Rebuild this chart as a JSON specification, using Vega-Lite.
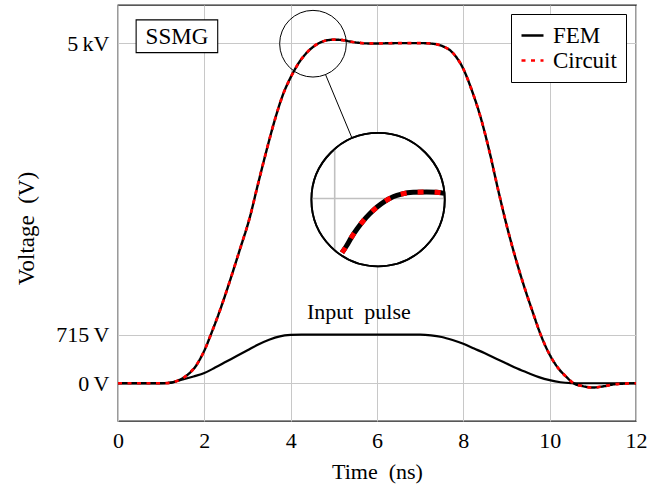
{
  "$schema": "https://vega.github.io/schema/vega-lite/v6.json",
  "width": 518,
  "height": 416,
  "autosize": {"type": "none"},
  "padding": {"left": 118, "top": 5, "right": 34, "bottom": 70},
  "background": "white",
  "config": {
    "font": "Liberation Serif",
    "view": {"stroke": "#222222", "strokeWidth": 1.3},
    "axis": {
      "gridColor": "#c8c8c8",
      "gridWidth": 1,
      "domain": false,
      "ticks": false,
      "labelFont": "Liberation Serif",
      "labelFontSize": 22,
      "labelColor": "black",
      "titleFont": "Liberation Serif",
      "titleFontSize": 22,
      "titleFontWeight": "normal",
      "titleColor": "black"
    }
  },
  "datasets": {
    "main": [
      {"t": 0, "FEM": 0, "Circuit": 0},
      {"t": 0.5, "FEM": 0, "Circuit": 0},
      {"t": 1.0, "FEM": 0, "Circuit": 0},
      {"t": 1.2, "FEM": 5, "Circuit": 5},
      {"t": 1.35, "FEM": 30, "Circuit": 30},
      {"t": 1.5, "FEM": 74, "Circuit": 74},
      {"t": 1.65, "FEM": 145, "Circuit": 145},
      {"t": 1.8, "FEM": 250, "Circuit": 250},
      {"t": 1.9, "FEM": 355, "Circuit": 355},
      {"t": 2.0, "FEM": 480, "Circuit": 480},
      {"t": 2.16, "FEM": 730, "Circuit": 730},
      {"t": 2.35, "FEM": 1050, "Circuit": 1050},
      {"t": 2.59, "FEM": 1500, "Circuit": 1500},
      {"t": 2.82, "FEM": 1960, "Circuit": 1960},
      {"t": 3.05, "FEM": 2430, "Circuit": 2430},
      {"t": 3.24, "FEM": 2920, "Circuit": 2920},
      {"t": 3.44, "FEM": 3420, "Circuit": 3420},
      {"t": 3.63, "FEM": 3865, "Circuit": 3865},
      {"t": 3.82, "FEM": 4240, "Circuit": 4240},
      {"t": 4.01, "FEM": 4509, "Circuit": 4509},
      {"t": 4.21, "FEM": 4730, "Circuit": 4730},
      {"t": 4.44, "FEM": 4901, "Circuit": 4901},
      {"t": 4.63, "FEM": 4990, "Circuit": 4990},
      {"t": 4.8, "FEM": 5035, "Circuit": 5035},
      {"t": 5.0, "FEM": 5050, "Circuit": 5050},
      {"t": 5.2, "FEM": 5045, "Circuit": 5045},
      {"t": 5.4, "FEM": 5020, "Circuit": 5020},
      {"t": 5.6, "FEM": 5003, "Circuit": 5003},
      {"t": 5.8, "FEM": 4995, "Circuit": 4995},
      {"t": 6.0, "FEM": 4995, "Circuit": 4995},
      {"t": 6.3, "FEM": 4998, "Circuit": 4998},
      {"t": 6.6, "FEM": 5000, "Circuit": 5000},
      {"t": 7.0, "FEM": 5000, "Circuit": 5000},
      {"t": 7.25, "FEM": 4993, "Circuit": 4993},
      {"t": 7.5, "FEM": 4960, "Circuit": 4960},
      {"t": 7.75, "FEM": 4860, "Circuit": 4860},
      {"t": 8.0, "FEM": 4620, "Circuit": 4620},
      {"t": 8.2, "FEM": 4300, "Circuit": 4300},
      {"t": 8.4, "FEM": 3910, "Circuit": 3910},
      {"t": 8.6, "FEM": 3420, "Circuit": 3420},
      {"t": 8.8, "FEM": 2860, "Circuit": 2860},
      {"t": 9.0, "FEM": 2330, "Circuit": 2330},
      {"t": 9.2, "FEM": 1860, "Circuit": 1860},
      {"t": 9.4, "FEM": 1440, "Circuit": 1440},
      {"t": 9.6, "FEM": 1060, "Circuit": 1060},
      {"t": 9.8, "FEM": 700, "Circuit": 700},
      {"t": 10.0, "FEM": 420, "Circuit": 420},
      {"t": 10.2, "FEM": 220, "Circuit": 220},
      {"t": 10.4, "FEM": 85, "Circuit": 85},
      {"t": 10.55, "FEM": 0, "Circuit": 0},
      {"t": 10.75, "FEM": -40, "Circuit": -40},
      {"t": 11.0, "FEM": -63, "Circuit": -63},
      {"t": 11.25, "FEM": -45, "Circuit": -45},
      {"t": 11.5, "FEM": -15, "Circuit": -15},
      {"t": 11.75, "FEM": -5, "Circuit": -5},
      {"t": 12.0, "FEM": 0, "Circuit": 0}
    ],
    "input": [
      {"t": 0, "v": 0},
      {"t": 1.0, "v": 0},
      {"t": 1.25, "v": 15},
      {"t": 1.5, "v": 55},
      {"t": 1.75, "v": 100},
      {"t": 2.0, "v": 150},
      {"t": 2.25, "v": 230},
      {"t": 2.5, "v": 315},
      {"t": 2.75, "v": 400},
      {"t": 3.0, "v": 485},
      {"t": 3.25, "v": 570},
      {"t": 3.5, "v": 640},
      {"t": 3.75, "v": 690},
      {"t": 4.0, "v": 710},
      {"t": 4.25, "v": 715},
      {"t": 7.0, "v": 715},
      {"t": 7.25, "v": 705},
      {"t": 7.5, "v": 680},
      {"t": 7.75, "v": 635},
      {"t": 8.0, "v": 580},
      {"t": 8.25, "v": 510},
      {"t": 8.5, "v": 440},
      {"t": 8.75, "v": 365},
      {"t": 9.0, "v": 290},
      {"t": 9.25, "v": 215},
      {"t": 9.5, "v": 150},
      {"t": 9.75, "v": 90},
      {"t": 10.0, "v": 45},
      {"t": 10.25, "v": 15},
      {"t": 10.5, "v": 3},
      {"t": 10.75, "v": 0},
      {"t": 12.0, "v": 0}
    ],
    "inset": [
      {"t": 5.19, "v": 1919},
      {"t": 5.292, "v": 2017},
      {"t": 5.408, "v": 2145},
      {"t": 5.537, "v": 2267},
      {"t": 5.677, "v": 2384},
      {"t": 5.832, "v": 2492},
      {"t": 6.002, "v": 2590},
      {"t": 6.18, "v": 2674},
      {"t": 6.373, "v": 2741},
      {"t": 6.567, "v": 2781},
      {"t": 6.836, "v": 2806},
      {"t": 7.147, "v": 2810},
      {"t": 7.379, "v": 2806},
      {"t": 7.555, "v": 2791}
    ],
    "insetGrid": [
      {"t": 4.48, "t2": 7.57, "v": 2715, "v2": 2715},
      {"t": 5.02, "t2": 5.02, "v": 1953, "v2": 3445}
    ]
  },
  "encoding": {
    "x": {
      "field": "t",
      "type": "quantitative",
      "scale": {"domain": [0, 12], "nice": false, "zero": false},
      "axis": {
        "values": [0, 2, 4, 6, 8, 10, 12],
        "grid": true,
        "labelBaseline": "alphabetic",
        "labelPadding": 26,
        "labelFlush": false,
        "title": "Time\u2002(ns)",
        "titleY": 57,
        "titleBaseline": "alphabetic"
      }
    },
    "y": {
      "field": "v",
      "type": "quantitative",
      "scale": {"domain": [-555, 5560], "nice": false, "zero": false},
      "axis": {
        "values": [0, 715, 5000],
        "grid": true,
        "labelPadding": 9,
        "labelExpr": "datum.value == 5000 ? '5\u2009kV' : datum.value + '\u2009V'",
        "title": "Voltage\u2002(V)",
        "titleFontSize": 23,
        "titleX": -92,
        "titleY": 223,
        "titleAngle": 270,
        "titleBaseline": "middle",
        "titleAlign": "center"
      }
    }
  },
  "layer": [
    {
      "data": {"name": "input"},
      "mark": {"type": "line", "color": "black", "strokeWidth": 2.2, "interpolate": "monotone"}
    },
    {
      "data": {"name": "main"},
      "transform": [{"fold": ["FEM", "Circuit"], "as": ["series", "v"]}],
      "mark": {"type": "line", "interpolate": "monotone"},
      "encoding": {
        "color": {
          "field": "series",
          "type": "nominal",
          "scale": {"domain": ["FEM", "Circuit"], "range": ["black", "#ff0000"]},
          "legend": {
            "orient": "none",
            "legendX": 393,
            "legendY": 9,
            "padding": 9,
            "strokeColor": "black",
            "fillColor": "white",
            "labelFont": "Liberation Serif",
            "labelFontSize": 23,
            "labelColor": "black",
            "labelOffset": 8,
            "symbolType": "stroke",
            "symbolSize": 484,
            "symbolStrokeWidth": 2.8,
            "rowPadding": 0,
            "title": null
          }
        },
        "strokeDash": {
          "field": "series",
          "type": "nominal",
          "scale": {"domain": ["FEM", "Circuit"], "range": [[1, 0], [4, 5.5]]},
          "legend": {
            "orient": "none",
            "legendX": 393,
            "legendY": 9,
            "padding": 9,
            "strokeColor": "black",
            "fillColor": "white",
            "labelFont": "Liberation Serif",
            "labelFontSize": 23,
            "labelColor": "black",
            "labelOffset": 8,
            "symbolType": "stroke",
            "symbolSize": 484,
            "symbolStrokeWidth": 2.8,
            "rowPadding": 0,
            "title": null
          }
        },
        "strokeWidth": {
          "field": "series",
          "type": "nominal",
          "scale": {"domain": ["FEM", "Circuit"], "range": [2.4, 2.7]},
          "legend": null
        }
      }
    },
    {
      "data": {"values": [{"t": 0.42, "t2": 2.31, "v": 4860, "v2": 5341}]},
      "mark": {"type": "rect", "fill": "white", "stroke": "black", "strokeWidth": 1.1},
      "encoding": {
        "x2": {"field": "t2"},
        "y2": {"field": "v2"}
      }
    },
    {
      "data": {"values": [{"t": 1.365, "v": 5090, "label": "SSMG"}]},
      "mark": {"type": "text", "fontSize": 23, "font": "Liberation Serif", "color": "black", "baseline": "middle", "align": "center"},
      "encoding": {"text": {"field": "label"}}
    },
    {
      "data": {"values": [{"t": 5.58, "v": 1047, "label": "Input\u2002pulse"}]},
      "mark": {"type": "text", "fontSize": 22, "font": "Liberation Serif", "color": "black", "baseline": "middle", "align": "center"},
      "encoding": {"text": {"field": "label"}}
    },
    {
      "data": {"values": [{"t": 4.517, "v": 4991}]},
      "mark": {"type": "point", "shape": "circle", "filled": false, "stroke": "black", "strokeWidth": 1, "opacity": 1, "size": 4444}
    },
    {
      "data": {"values": [{"t": 4.806, "v": 4540, "t2": 5.421, "v2": 3604}]},
      "mark": {"type": "rule", "color": "black", "strokeWidth": 1},
      "encoding": {
        "x2": {"field": "t2"},
        "y2": {"field": "v2"}
      }
    },
    {
      "data": {"values": [{"t": 6.025, "v": 2699}]},
      "mark": {"type": "point", "shape": "circle", "filled": true, "fill": "white", "stroke": "black", "strokeWidth": 1.8, "opacity": 1, "fillOpacity": 1, "size": 17778}
    },
    {
      "data": {"name": "insetGrid"},
      "mark": {"type": "rule", "color": "#c0c0c0", "strokeWidth": 1.6},
      "encoding": {
        "x2": {"field": "t2"},
        "y2": {"field": "v2"}
      }
    },
    {
      "data": {"name": "inset"},
      "mark": {"type": "line", "color": "black", "strokeWidth": 5, "interpolate": "monotone"}
    },
    {
      "data": {"name": "inset"},
      "mark": {"type": "line", "color": "#ff0000", "strokeWidth": 5, "strokeDash": [6, 11], "interpolate": "monotone"}
    },
    {
      "data": {"values": [{"t": 6.025, "v": 2699}]},
      "mark": {"type": "point", "shape": "circle", "filled": false, "stroke": "black", "strokeWidth": 1.8, "opacity": 1, "size": 17778}
    }
  ]
}
